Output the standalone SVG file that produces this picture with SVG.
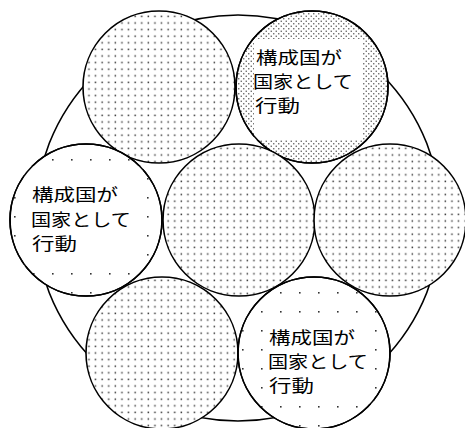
<svg xmlns="http://www.w3.org/2000/svg" width="465" height="428" viewBox="0 0 465 428">
<defs>
<pattern id="pDense" width="6.6" height="6.6" patternUnits="userSpaceOnUse"><rect x="2.4" y="2.4" width="1.5" height="1.6" fill="#444"/></pattern>
<pattern id="pFine" width="5" height="5" patternUnits="userSpaceOnUse"><rect x="0.6" y="0.6" width="1.3" height="1.3" fill="#555"/><rect x="3.1" y="3.1" width="1.3" height="1.3" fill="#555"/></pattern>
<pattern id="pSparse" x="14" y="7" width="19" height="19" patternUnits="userSpaceOnUse"><rect x="0" y="0" width="1.6" height="1.6" fill="#333"/></pattern>
</defs>
<style>
.outer{fill:#fff;stroke:#000;stroke-width:1.6}
.c{stroke:#000;stroke-width:1.6}
.ring{fill:none;stroke:#000;stroke-width:1.6}
.bg{fill:#fff}
.t{font-family:"Noto Sans CJK JP","Noto Sans CJK SC",sans-serif;font-size:16.5px;fill:#000}
</style>
<rect width="465" height="428" fill="#fff"/>
<g id="outer"><circle class="outer" cx="238" cy="218" r="203"/></g>
<g id="n-topleft"><circle class="bg" cx="159" cy="87" r="76"/><circle class="c" cx="159" cy="87" r="76" fill="url(#pDense)"/></g>
<g id="n-topright"><circle class="bg" cx="312" cy="87" r="76"/><circle class="c" cx="312" cy="87" r="76" fill="url(#pFine)"/><rect x="254" y="39" width="108" height="101" fill="#fff"/><circle class="ring" cx="312" cy="87" r="76"/>
<text class="t" x="256" y="64" textLength="86" lengthAdjust="spacingAndGlyphs">構成国が</text><text class="t" x="253" y="88" textLength="100" lengthAdjust="spacingAndGlyphs">国家として</text><text class="t" x="255" y="112" textLength="45" lengthAdjust="spacingAndGlyphs">行動</text></g>
<g id="n-left"><circle class="bg" cx="86" cy="220" r="76"/><circle class="c" cx="86" cy="220" r="76" fill="url(#pSparse)"/><rect x="24" y="166" width="119" height="100" fill="#fff"/><circle class="ring" cx="86" cy="220" r="76"/>
<text class="t" x="32" y="201" textLength="86" lengthAdjust="spacingAndGlyphs">構成国が</text><text class="t" x="31" y="226" textLength="100" lengthAdjust="spacingAndGlyphs">国家として</text><text class="t" x="32" y="250" textLength="45" lengthAdjust="spacingAndGlyphs">行動</text></g>
<g id="n-center"><circle class="bg" cx="239" cy="220" r="76"/><circle class="c" cx="239" cy="220" r="76" fill="url(#pDense)"/></g>
<g id="n-right"><circle class="bg" cx="390" cy="220" r="76"/><circle class="c" cx="390" cy="220" r="76" fill="url(#pDense)"/></g>
<g id="n-bottomleft"><circle class="bg" cx="162" cy="353" r="76"/><circle class="c" cx="162" cy="353" r="76" fill="url(#pDense)"/></g>
<g id="n-bottomright"><circle class="bg" cx="314" cy="353" r="76"/><circle class="c" cx="314" cy="353" r="76" fill="url(#pSparse)"/><rect x="266" y="318" width="108" height="86" fill="#fff"/><circle class="ring" cx="314" cy="353" r="76"/>
<text class="t" x="269" y="344" textLength="86" lengthAdjust="spacingAndGlyphs">構成国が</text><text class="t" x="268" y="368" textLength="100" lengthAdjust="spacingAndGlyphs">国家として</text><text class="t" x="269" y="392" textLength="45" lengthAdjust="spacingAndGlyphs">行動</text></g>
<g id="connectors"></g>
</svg>
